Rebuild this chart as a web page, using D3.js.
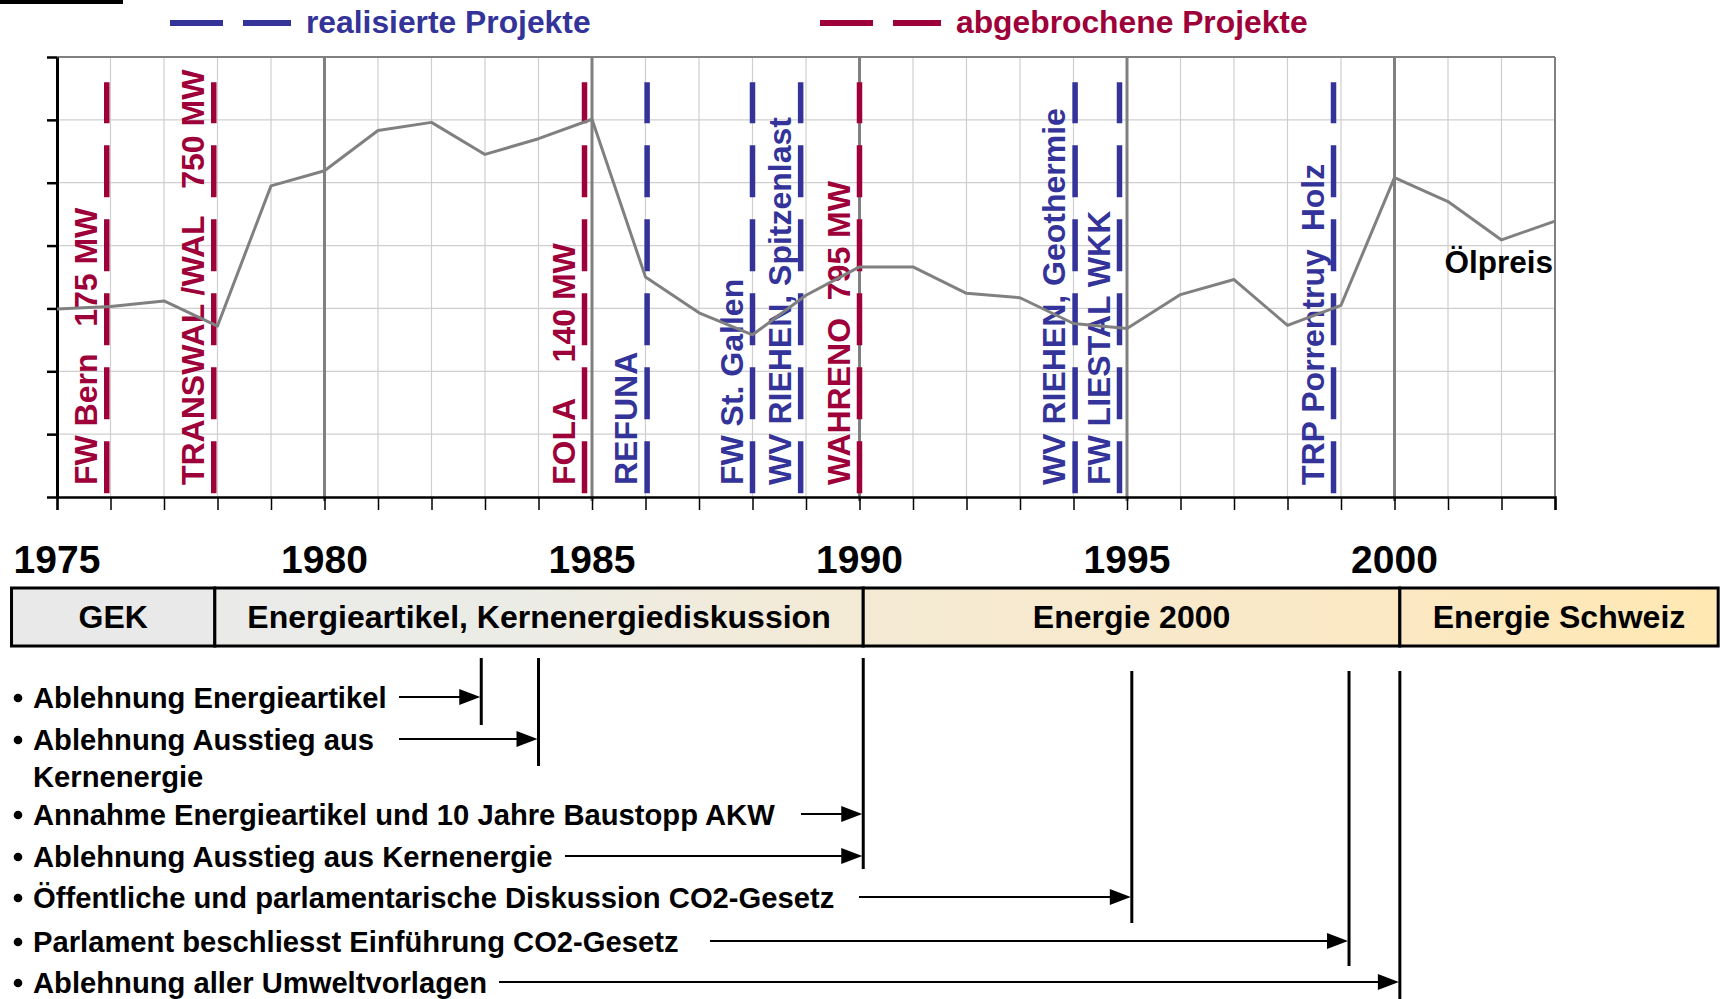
<!DOCTYPE html>
<html><head><meta charset="utf-8">
<script src="https://cdn.jsdelivr.net/npm/d3@7"></script>
<style>
body{margin:0;background:#fff;}
svg{display:block;font-family:"Liberation Sans",Arial,Helvetica,sans-serif;font-weight:bold;}
</style></head><body>
<svg id="c" width="1720" height="999"></svg>
<script>
// ---------------- DATA ----------------
const years = d3.range(1975, 2004);
const oilPrice = [2.99, 3.03, 3.12, 2.72, 4.95, 5.19, 5.83, 5.96, 5.45, 5.70, 6.01, 3.50, 2.93, 2.58, 3.21,
                  3.66, 3.66, 3.24, 3.17, 2.76, 2.68, 3.22, 3.46, 2.73, 3.05, 5.08, 4.70, 4.09, 4.39];
const projectNames = ["FW Bern\u00a0\u00a0\u00a0175 MW", "TRANSWAL /WAL\u00a0\u00a0\u00a0750 MW", "FOLA\u00a0\u00a0\u00a0\u00a0140 MW",
  "REFUNA", "FW St. Gallen", "WV RIEHEN, Spitzenlast", "WAHRENO\u00a0\u00a0795 MW",
  "WV RIEHEN, Geothermie", "FW LIESTAL WKK", "TRP Porrentruy\u00a0\u00a0Holz"];
const projectYears = [1975.93, 1977.93, 1984.86, 1986.03, 1988.0, 1988.9, 1990.0, 1994.03, 1994.86, 1998.86];
const projectStatus = ["abgebrochen", "abgebrochen", "abgebrochen", "realisiert", "realisiert", "realisiert",
  "abgebrochen", "realisiert", "realisiert", "realisiert"];
const legendLabels = ["realisierte Projekte", "abgebrochene Projekte"];
const yearLabels = [1975, 1980, 1985, 1990, 1995, 2000];
const phaseNames = ["GEK", "Energieartikel, Kernenergiediskussion", "Energie 2000", "Energie Schweiz"];
const phaseStart = [1974.15, 1977.95, 1990.07, 2000.1];
const phaseEnd = [1977.95, 1990.07, 2000.1, 2006.05];
const eventTexts = ["Ablehnung Energieartikel", "Ablehnung Ausstieg aus", "Annahme Energieartikel und 10 Jahre Baustopp AKW",
  "Ablehnung Ausstieg aus Kernenergie", "Öffentliche und parlamentarische Diskussion CO2-Gesetz",
  "Parlament beschliesst Einführung CO2-Gesetz", "Ablehnung aller Umweltvorlagen"];
const eventContinuation = ["", "Kernenergie", "", "", "", "", ""];
const markerYears = [1982.93, 1984.0, 1990.07, 1995.09, 1999.15, 2000.1];
const eventMarker = [0, 1, 2, 2, 3, 4, 5];

// ---------------- LAYOUT ----------------
const RED = "#9E0039", BLUE = "#333399", GRID = "#cfcfcf", DARK = "#808080";
const svg = d3.select("#c");
const x = d3.scaleLinear().domain([1975, 2003]).range([57, 1555]);
const y = d3.scaleLinear().domain([0, 7]).range([497, 57]);

// top-left black bar
svg.append("rect").attr("x", 0).attr("y", 0).attr("width", 123).attr("height", 4).attr("fill", "#000");

// legend
const legendColors = [BLUE, RED];
const legendX = [170, 820];
legendLabels.forEach((lab, i) => {
  const g = svg.append("g").attr("transform", `translate(${legendX[i]},23)`);
  g.append("line").attr("x1", 0).attr("x2", 53).attr("stroke", legendColors[i]).attr("stroke-width", 6);
  g.append("line").attr("x1", 73).attr("x2", 121).attr("stroke", legendColors[i]).attr("stroke-width", 6);
  g.append("text").attr("x", 136).attr("y", 10).attr("font-size", 31.8).attr("fill", legendColors[i]).text(lab);
});

// grid
const grid = svg.append("g");
grid.selectAll(".hg").data(d3.range(1, 7)).join("line")
  .attr("x1", x(1975)).attr("x2", x(2003)).attr("y1", d => y(d)).attr("y2", d => y(d))
  .attr("stroke", GRID).attr("stroke-width", 1.2);
grid.selectAll(".vg").data(years.filter(d => d % 5 !== 0 && d < 2003)).join("line")
  .attr("x1", d => x(d)).attr("x2", d => x(d)).attr("y1", y(7)).attr("y2", y(0))
  .attr("stroke", GRID).attr("stroke-width", 1.2);
grid.append("line").attr("x1", x(1975)).attr("x2", x(2003)).attr("y1", y(7)).attr("y2", y(7)).attr("stroke", DARK).attr("stroke-width", 2);
grid.append("line").attr("x1", x(2003)).attr("x2", x(2003)).attr("y1", y(7)).attr("y2", y(0)).attr("stroke", DARK).attr("stroke-width", 2);

// axes
const xAxis = svg.append("g").attr("transform", `translate(0,${y(0)})`)
  .call(d3.axisBottom(x).tickValues(years).tickSize(13).tickFormat(""));
xAxis.select(".domain").attr("stroke", "#000").attr("stroke-width", 2.5);
xAxis.selectAll(".tick line").attr("stroke", "#000").attr("stroke-width", 1.5);
const yAxis = svg.append("g").attr("transform", `translate(${x(1975)},0)`)
  .call(d3.axisLeft(y).tickValues(d3.range(0, 8)).tickSize(10).tickSizeOuter(0).tickFormat(""));
yAxis.select(".domain").attr("stroke", "#000").attr("stroke-width", 3);
yAxis.selectAll(".tick line").attr("stroke", "#000").attr("stroke-width", 2.5);

// 5-year dark lines
grid.selectAll(".v5").data(yearLabels.filter(d => d > 1975)).join("line")
  .attr("x1", d => x(d)).attr("x2", d => x(d)).attr("y1", y(7)).attr("y2", y(0) + 4)
  .attr("stroke", DARK).attr("stroke-width", 3);

// project dashed lines
const colorOf = s => s === "realisiert" ? BLUE : RED;
svg.append("g").selectAll("line").data(projectYears).join("line")
  .attr("x1", d => x(d)).attr("x2", d => x(d)).attr("y1", y(0.06)).attr("y2", y(6.6))
  .attr("stroke", (d, i) => colorOf(projectStatus[i])).attr("stroke-width", 5.5)
  .attr("stroke-dasharray", "52,22");

// project labels
svg.append("g").selectAll("text").data(projectNames).join("text")
  .attr("transform", (d, i) => `translate(${x(projectYears[i]) - 10},${y(0.19)}) rotate(-90)`)
  .attr("font-size", 32).attr("fill", (d, i) => colorOf(projectStatus[i])).text(d => d);

// oil price line
svg.append("path").datum(oilPrice)
  .attr("d", d3.line().x((d, i) => x(years[i])).y(d => y(d)))
  .attr("fill", "none").attr("stroke", DARK).attr("stroke-width", 3).attr("stroke-linejoin", "round");
svg.append("text").attr("x", x(2003) - 2).attr("y", y(3.57)).attr("text-anchor", "end")
  .attr("font-size", 31.5).attr("fill", "#000").text("Ölpreis");

// year labels
svg.append("g").selectAll("text").data(yearLabels).join("text")
  .attr("x", d => x(d)).attr("y", 573).attr("text-anchor", "middle").attr("font-size", 39).text(d => d);

// phases
const defs = svg.append("defs");
const grad = defs.append("linearGradient").attr("id", "pg").attr("gradientUnits", "userSpaceOnUse")
  .attr("x1", x(phaseStart[0])).attr("x2", x(phaseEnd[3])).attr("y1", 0).attr("y2", 0);
[[0, "#e9e9e9"], [0.13, "#eaeae9"], [0.3, "#ececE6"], [0.5, "#f4ead4"], [0.8, "#fbe8c4"], [1, "#ffe8b2"]]
  .forEach(([o, c]) => grad.append("stop").attr("offset", o).attr("stop-color", c));
const ph = svg.append("g");
phaseNames.forEach((n, i) => {
  ph.append("rect").attr("x", x(phaseStart[i])).attr("y", 588)
    .attr("width", x(phaseEnd[i]) - x(phaseStart[i])).attr("height", 58)
    .attr("fill", i === 0 ? "#e9e9e9" : "url(#pg)").attr("stroke", "#000").attr("stroke-width", 3);
  ph.append("text").attr("x", (x(phaseStart[i]) + x(phaseEnd[i])) / 2).attr("y", 628)
    .attr("text-anchor", "middle").attr("font-size", 32).text(n);
});

// events list
const markerTop = [658, 658, 658, 671, 671, 671];
const markerBottom = [725, 766, 869, 923, 966, 1005];
const rowBaseline = [708, 750, 787, 825, 867, 908, 952, 993];
const arrowStartX = [399, 399, 801, 565, 859, 710, 499];
const ev = svg.append("g");
markerYears.forEach((yr, i) => {
  ev.append("line").attr("x1", x(yr)).attr("x2", x(yr)).attr("y1", markerTop[i]).attr("y2", markerBottom[i])
    .attr("stroke", "#000").attr("stroke-width", 3);
});
let row = 0;
eventTexts.forEach((t, i) => {
  const by = rowBaseline[row];
  ev.append("circle").attr("cx", 18).attr("cy", by - 10).attr("r", 4.3).attr("fill", "#000");
  ev.append("text").attr("x", 33).attr("y", by).attr("font-size", 29.2).text(t);
  const ay = by - 11;
  const tip = x(markerYears[eventMarker[i]]) - 1;
  ev.append("line").attr("x1", arrowStartX[i]).attr("x2", tip - 18).attr("y1", ay).attr("y2", ay)
    .attr("stroke", "#000").attr("stroke-width", 2);
  ev.append("path").attr("d", `M${tip},${ay} L${tip - 21},${ay - 8} L${tip - 21},${ay + 8} Z`).attr("fill", "#000");
  row++;
  if (eventContinuation[i]) {
    ev.append("text").attr("x", 33).attr("y", rowBaseline[row]).attr("font-size", 29.2).text(eventContinuation[i]);
    row++;
  }
});
</script>
</body></html>
